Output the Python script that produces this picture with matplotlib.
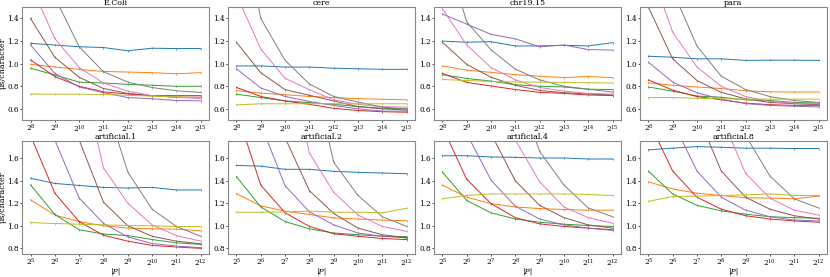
import matplotlib
matplotlib.use("Agg")
import matplotlib.pyplot as plt

plt.rcParams['font.family'] = ['DejaVu Serif']
plt.rcParams['mathtext.fontset'] = 'dejavuserif'

titles_top = ["E.Coli", "cere", "chr19.15", "para"]
titles_bottom = ["artificial.1", "artificial.2", "artificial.4", "artificial.8"]
exp_top = [8, 9, 10, 11, 12, 13, 14, 15]
exp_bottom = [5, 6, 7, 8, 9, 10, 11, 12]
colors = ['C0', 'C1', 'C2', 'C3', 'C4', 'C5', 'C6', 'C7', 'C8']

# series order: blue, orange, green, red, purple, brown, pink, gray, olive
ecoli = [
    [1.18, 1.165, 1.15, 1.143, 1.114, 1.137, 1.134, 1.134],
    [0.994, 0.971, 0.949, 0.931, 0.926, 0.92, 0.911, 0.92],
    [0.96, 0.90, 0.837, 0.829, 0.817, 0.809, 0.80, 0.80],
    [1.034, 0.886, 0.80, 0.751, 0.731, 0.717, 0.717, 0.717],
    [1.166, 0.914, 0.794, 0.743, 0.70, 0.689, 0.674, 0.671],
    [1.40, 1.057, 0.88, 0.78, 0.737, 0.717, 0.703, 0.703],
    [1.70, 1.223, 0.966, 0.829, 0.757, 0.717, 0.703, 0.691],
    [2.20, 1.588, 1.151, 0.929, 0.837, 0.789, 0.76, 0.746],
    [0.731, 0.73, 0.73, 0.727, 0.72, 0.712, 0.706, 0.70],
]
cere = [
    [0.98, 0.98, 0.97, 0.97, 0.96, 0.955, 0.95, 0.95],
    [0.76, 0.74, 0.725, 0.71, 0.70, 0.69, 0.685, 0.68],
    [0.73, 0.70, 0.67, 0.655, 0.64, 0.62, 0.605, 0.60],
    [0.79, 0.71, 0.67, 0.64, 0.605, 0.585, 0.575, 0.57],
    [0.955, 0.785, 0.71, 0.665, 0.63, 0.60, 0.58, 0.58],
    [1.19, 0.92, 0.77, 0.72, 0.67, 0.62, 0.60, 0.59],
    [1.61, 1.13, 0.87, 0.77, 0.68, 0.64, 0.62, 0.615],
    [2.50, 1.40, 1.03, 0.82, 0.71, 0.66, 0.615, 0.60],
    [0.635, 0.645, 0.645, 0.645, 0.645, 0.645, 0.645, 0.645],
]
chr19 = [
    [1.20, 1.19, 1.195, 1.157, 1.157, 1.163, 1.157, 1.186],
    [0.98, 0.943, 0.923, 0.903, 0.889, 0.877, 0.886, 0.877],
    [0.903, 0.869, 0.846, 0.814, 0.80, 0.794, 0.774, 0.771],
    [0.914, 0.834, 0.803, 0.771, 0.746, 0.737, 0.723, 0.717],
    [1.44, 1.35, 1.26, 1.22, 1.15, 1.165, 1.125, 1.12],
    [1.19, 0.994, 0.88, 0.809, 0.763, 0.743, 0.731, 0.723],
    [1.486, 1.166, 0.966, 0.857, 0.789, 0.757, 0.737, 0.731],
    [2.09, 1.371, 1.123, 0.951, 0.857, 0.80, 0.774, 0.749],
    [0.86, 0.851, 0.843, 0.837, 0.837, 0.834, 0.831, 0.829],
]
para = [
    [1.066, 1.057, 1.043, 1.043, 1.029, 1.031, 1.031, 1.029],
    [0.831, 0.809, 0.794, 0.78, 0.76, 0.751, 0.749, 0.749],
    [0.794, 0.757, 0.714, 0.703, 0.68, 0.674, 0.657, 0.651],
    [0.857, 0.766, 0.709, 0.68, 0.651, 0.637, 0.631, 0.631],
    [1.014, 0.837, 0.743, 0.686, 0.646, 0.631, 0.623, 0.617],
    [1.503, 1.043, 0.851, 0.746, 0.689, 0.657, 0.646, 0.637],
    [1.89, 1.28, 0.971, 0.80, 0.709, 0.666, 0.651, 0.643],
    [2.30, 1.647, 1.157, 0.889, 0.771, 0.709, 0.674, 0.657],
    [0.70, 0.70, 0.694, 0.689, 0.686, 0.686, 0.686, 0.686],
]
art1 = [
    [1.421, 1.375, 1.357, 1.34, 1.334, 1.34, 1.317, 1.317],
    [1.23, 1.095, 1.037, 1.0, 0.98, 0.973, 0.970, 0.956],
    [1.363, 1.10, 0.965, 0.927, 0.913, 0.878, 0.849, 0.835],
    [1.80, 1.288, 1.037, 0.916, 0.864, 0.826, 0.812, 0.80],
    [2.30, 1.76, 1.245, 1.022, 0.901, 0.843, 0.82, 0.806],
    [2.60, 2.20, 1.76, 1.21, 1.0, 0.907, 0.864, 0.84],
    [3.00, 2.80, 2.46, 1.513, 1.2, 1.008, 0.913, 0.864],
    [3.20, 3.00, 2.70, 2.16, 1.476, 1.147, 0.994, 0.907],
    [1.028, 1.02, 1.014, 1.008, 1.002, 1.0, 0.993, 0.993],
]
art2 = [
    [1.534, 1.528, 1.50, 1.50, 1.482, 1.473, 1.467, 1.461],
    [1.285, 1.176, 1.13, 1.10, 1.07, 1.06, 1.05, 1.045],
    [1.435, 1.167, 1.037, 0.973, 0.936, 0.921, 0.907, 0.904],
    [2.02, 1.36, 1.115, 0.994, 0.93, 0.907, 0.887, 0.878],
    [2.40, 1.90, 1.355, 1.123, 1.008, 0.936, 0.907, 0.893],
    [2.70, 2.30, 1.78, 1.311, 1.109, 0.979, 0.921, 0.893],
    [3.00, 2.80, 2.60, 1.645, 1.297, 1.095, 0.994, 0.95],
    [3.20, 3.00, 2.80, 2.50, 1.562, 1.268, 1.08, 0.994],
    [1.12, 1.12, 1.123, 1.13, 1.12, 1.12, 1.115, 1.155],
]
art4 = [
    [1.62, 1.62, 1.609, 1.606, 1.60, 1.60, 1.591, 1.591],
    [1.36, 1.253, 1.196, 1.167, 1.152, 1.144, 1.138, 1.138],
    [1.476, 1.224, 1.115, 1.06, 1.031, 1.014, 1.002, 0.994],
    [1.875, 1.412, 1.196, 1.072, 1.017, 0.994, 0.979, 0.965],
    [2.40, 1.816, 1.404, 1.173, 1.06, 1.008, 0.979, 0.959],
    [2.70, 2.30, 1.817, 1.398, 1.181, 1.072, 1.008, 0.979],
    [3.00, 2.80, 2.50, 1.76, 1.389, 1.167, 1.072, 1.022],
    [3.20, 3.00, 2.80, 2.27, 1.658, 1.36, 1.158, 1.08],
    [1.239, 1.268, 1.282, 1.282, 1.282, 1.282, 1.277, 1.268],
]
art8 = [
    [1.672, 1.687, 1.701, 1.695, 1.687, 1.687, 1.684, 1.684],
    [1.389, 1.326, 1.288, 1.268, 1.248, 1.245, 1.239, 1.262],
    [1.485, 1.282, 1.181, 1.132, 1.103, 1.08, 1.072, 1.066],
    [1.934, 1.485, 1.253, 1.147, 1.089, 1.06, 1.043, 1.031],
    [2.50, 1.927, 1.485, 1.253, 1.138, 1.08, 1.051, 1.043],
    [2.80, 2.40, 1.995, 1.485, 1.253, 1.147, 1.089, 1.06],
    [3.00, 2.80, 2.50, 1.975, 1.464, 1.245, 1.138, 1.095],
    [3.20, 3.00, 2.80, 2.30, 1.80, 1.441, 1.239, 1.158],
    [1.216, 1.259, 1.262, 1.268, 1.274, 1.282, 1.268, 1.268],
]

top_data = [ecoli, cere, chr19, para]
bottom_data = [art1, art2, art4, art8]

fig, axes = plt.subplots(2, 4, figsize=(8.3, 2.77), dpi=100)
fig.subplots_adjust(left=0.0265, right=0.9964, top=0.974, bottom=0.083,
                    wspace=0.1, hspace=0.185)

def draw(ax, xs, data, title, ylim, yticks):
    for series, c in zip(data, colors):
        ax.plot(xs, series, color=c, lw=0.7, marker='|', ms=1.8, mew=0.5)
    ax.set_xticks(xs)
    ax.set_xticklabels([r'$2^{%d}$' % e for e in xs])
    ax.set_ylim(*ylim)
    ax.set_yticks(yticks)
    ax.set_title(title, fontsize=5.7, pad=0.3)
    ax.tick_params(labelsize=5.2, length=1.5, width=0.5, pad=0.6)
    for s in ax.spines.values():
        s.set_color('#888888')
        s.set_linewidth(0.8)

for i in range(4):
    draw(axes[0, i], exp_top, top_data[i], titles_top[i], (0.5, 1.5),
         [0.6, 0.8, 1.0, 1.2, 1.4])
    draw(axes[1, i], exp_bottom, bottom_data[i], titles_bottom[i], (0.75, 1.75),
         [0.8, 1.0, 1.2, 1.4, 1.6])
    axes[1, i].set_xlabel('|P|', fontsize=5.5, fontstyle='italic', labelpad=-0.3)

for r in range(2):
    axes[r, 0].set_ylabel('μs/character', fontsize=5.8, labelpad=0.2)

fig.savefig('out.png', dpi=100)
